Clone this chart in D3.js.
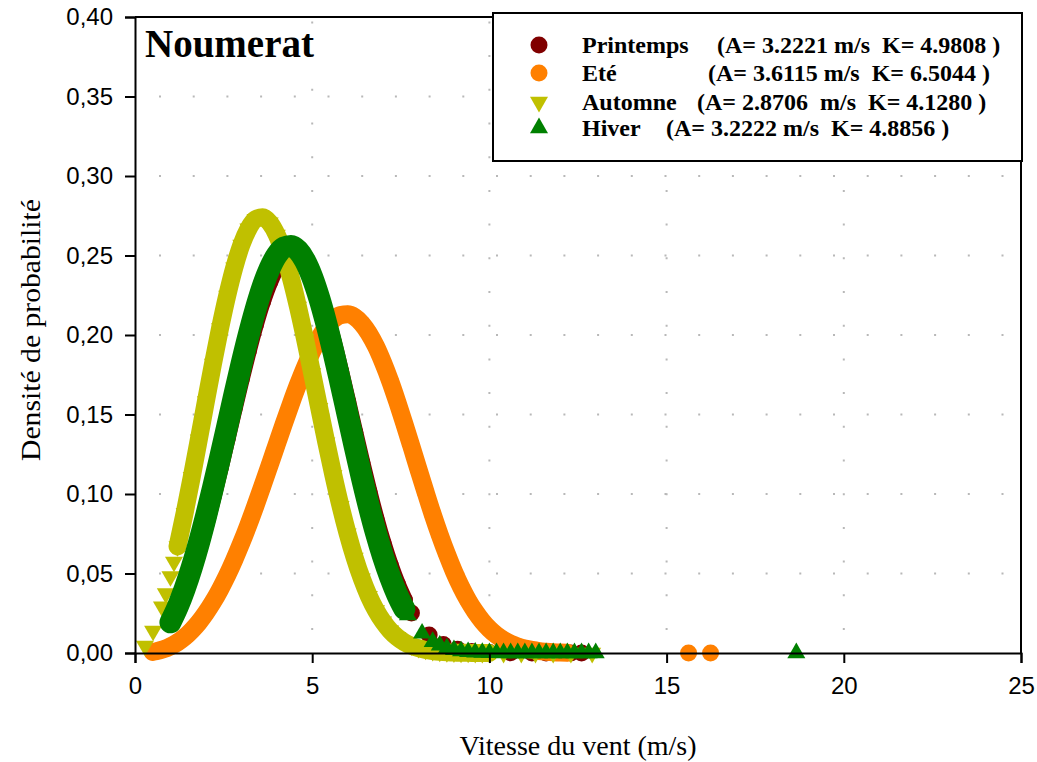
<!DOCTYPE html>
<html>
<head>
<meta charset="utf-8">
<script src="https://cdn.jsdelivr.net/npm/d3@7"></script>
<style>
  body { margin: 0; background: #fff; }
  svg { display: block; }
  .tick text { font-family: "Liberation Sans", Arial, sans-serif; font-size: 24px; fill: #000; }
</style>
</head>
<body>
<svg id="chart" width="1037" height="762"></svg>
<script>
// ---- Seasons, legend texts and marker styles ----
const seasons = ["Printemps", "Eté", "Automne", "Hiver"];
const seasonParams = [
  "(A= 3.2221 m/s  K= 4.9808 )",
  "(A= 3.6115 m/s  K= 6.5044 )",
  "(A= 2.8706  m/s  K= 4.1280 )",
  "(A= 3.2222 m/s  K= 4.8856 )"
];
const seasonColors = ["#800000", "#FF8000", "#C0C000", "#008000"];
const seasonSymbols = ["circle", "circle", "triangleDown", "triangleUp"];
const bandWidths = [17, 18, 18, 22];

// ---- Axis ticks ----
const xTicks = [0, 5, 10, 15, 20, 25];
const yTicks = [0, 0.05, 0.10, 0.15, 0.20, 0.25, 0.30, 0.35, 0.40];

// ---- Printemps: wind speed (m/s) and probability density ----
const printempsSpeeds = [1.0, 1.2, 1.4, 1.6, 1.8, 2.0, 2.2, 2.4, 2.6, 2.8, 3.0, 3.2, 3.4, 3.6, 3.8, 4.0, 4.2, 4.4, 4.6, 4.8,
  5.0, 5.2, 5.4, 5.6, 5.8, 6.0, 6.2, 6.4, 6.6, 6.8, 7.0, 7.2, 7.4, 7.6];
const printempsDensity = [0.0182, 0.0271, 0.0379, 0.0506, 0.0649, 0.0808, 0.0980, 0.1161, 0.1349, 0.1539, 0.1725, 0.1903,
  0.2068, 0.2213, 0.2334, 0.2426, 0.2486, 0.2512, 0.2500, 0.2453, 0.2371, 0.2257, 0.2115, 0.1952, 0.1772, 0.1582, 0.1389,
  0.1198, 0.1016, 0.0845, 0.0690, 0.0553, 0.0434, 0.0334];
const printempsSparseSpeeds = [7.8, 8.3, 8.7, 9.1, 9.5, 10.0, 10.6, 11.2, 11.6, 12.3, 12.6];
const printempsSparseDensity = [0.0252, 0.0113, 0.0054, 0.0023, 0.0009, 0.0003, 0.0001, 0.0000, 0.0000, 0.0000, 0.0000];

// ---- Eté ----
const eteSpeeds = [0.5, 0.6, 0.8, 1.0, 1.2, 1.4, 1.6, 1.8, 2.0, 2.2, 2.4, 2.6, 2.8, 3.0, 3.2, 3.4, 3.6, 3.8, 4.0, 4.2, 4.4,
  4.6, 4.8, 5.0, 5.2, 5.4, 5.6, 5.8, 6.0, 6.2, 6.4, 6.6, 6.8, 7.0, 7.2, 7.4, 7.6, 7.8, 8.0, 8.2, 8.4, 8.6, 8.8, 9.0, 9.2,
  9.4, 9.6, 9.8, 10.0, 10.2, 10.4, 10.6, 10.8, 11.0, 11.2, 11.4, 11.6, 11.8, 12.0, 12.2];
const eteDensity = [0.0007, 0.0011, 0.0023, 0.0042, 0.0067, 0.0100, 0.0142, 0.0192, 0.0252, 0.0321, 0.0400, 0.0488, 0.0586,
  0.0692, 0.0806, 0.0927, 0.1053, 0.1182, 0.1312, 0.1442, 0.1568, 0.1688, 0.1799, 0.1898, 0.1982, 0.2050, 0.2098, 0.2125,
  0.2130, 0.2113, 0.2072, 0.2010, 0.1928, 0.1826, 0.1710, 0.1580, 0.1442, 0.1299, 0.1154, 0.1011, 0.0872, 0.0742, 0.0622,
  0.0512, 0.0415, 0.0331, 0.0260, 0.0200, 0.0151, 0.0112, 0.0082, 0.0058, 0.0041, 0.0028, 0.0019, 0.0012, 0.0008, 0.0005,
  0.0003, 0.0002];
const eteSparseSpeeds = [15.62, 16.24];
const eteSparseDensity = [0.0000, 0.0000];

// ---- Automne ----
const automneSpeeds = [1.2, 1.4, 1.6, 1.8, 2.0, 2.2, 2.4, 2.6, 2.8, 3.0, 3.2, 3.4, 3.6, 3.8, 4.0, 4.2, 4.4, 4.6, 4.8, 5.0,
  5.2, 5.4, 5.6, 5.8, 6.0, 6.2, 6.4, 6.6, 6.8, 7.0, 7.2, 7.4, 7.6, 7.8, 8.0, 8.2, 8.4, 8.6, 8.8, 9.0, 9.2, 9.4, 9.6, 9.8, 10.0];
const automneDensity = [0.0670, 0.0880, 0.1106, 0.1342, 0.1582, 0.1818, 0.2042, 0.2246, 0.2423, 0.2566, 0.2668, 0.2728,
  0.2741, 0.2707, 0.2630, 0.2511, 0.2358, 0.2176, 0.1973, 0.1758, 0.1539, 0.1323, 0.1116, 0.0924, 0.0751, 0.0598, 0.0467,
  0.0357, 0.0268, 0.0197, 0.0141, 0.0099, 0.0068, 0.0046, 0.0030, 0.0019, 0.0012, 0.0007, 0.0004, 0.0003, 0.0001, 0.0001,
  0.0000, 0.0000, 0.0000];
const automneSparseSpeeds = [0.28, 0.51, 0.76, 0.87, 1.0, 1.1, 10.4, 10.9, 11.3, 11.8, 12.3, 12.9];
const automneSparseDensity = [0.0045, 0.0139, 0.0291, 0.0374, 0.0482, 0.0573, 0.0000, 0.0000, 0.0000, 0.0000, 0.0000, 0.0000];

// ---- Hiver ----
const hiverSpeeds = [1.0, 1.2, 1.4, 1.6, 1.8, 2.0, 2.2, 2.4, 2.6, 2.8, 3.0, 3.2, 3.4, 3.6, 3.8, 4.0, 4.2, 4.4, 4.6, 4.8,
  5.0, 5.2, 5.4, 5.6, 5.8, 6.0, 6.2, 6.4, 6.6, 6.8, 7.0, 7.2, 7.4, 7.6];
const hiverDensity = [0.0193, 0.0288, 0.0403, 0.0537, 0.0689, 0.0857, 0.1038, 0.1228, 0.1424, 0.1621, 0.1813, 0.1994,
  0.2159, 0.2303, 0.2418, 0.2502, 0.2550, 0.2560, 0.2532, 0.2466, 0.2364, 0.2231, 0.2071, 0.1892, 0.1698, 0.1498, 0.1298,
  0.1104, 0.0922, 0.0755, 0.0606, 0.0477, 0.0367, 0.0277];
const hiverSparseSpeeds = [7.7, 8.1, 8.4, 8.6, 8.8, 9.0, 9.2, 9.4, 9.6, 9.8, 10.0, 10.2, 10.4, 10.6, 10.8, 11.0, 11.2, 11.4,
  11.6, 11.8, 12.0, 12.2, 12.4, 12.6, 12.8, 13.0, 18.66];
const hiverSparseDensity = [0.0238, 0.0124, 0.0071, 0.0048, 0.0031, 0.0020, 0.0012, 0.0007, 0.0004, 0.0003, 0.0001, 0.0001,
  0.0000, 0.0000, 0.0000, 0.0000, 0.0000, 0.0000, 0.0000, 0.0000, 0.0000, 0.0000, 0.0000, 0.0000, 0.0000, 0.0000, 0.0000];

const zip = (xs, ys) => xs.map((v, i) => ({ speed: v, density: ys[i] }));
const series = [
  { band: zip(printempsSpeeds, printempsDensity), sparse: zip(printempsSparseSpeeds, printempsSparseDensity) },
  { band: zip(eteSpeeds, eteDensity), sparse: zip(eteSparseSpeeds, eteSparseDensity) },
  { band: zip(automneSpeeds, automneDensity), sparse: zip(automneSparseSpeeds, automneSparseDensity) },
  { band: zip(hiverSpeeds, hiverDensity), sparse: zip(hiverSparseSpeeds, hiverSparseDensity) }
].map((s, i) => ({ ...s, name: seasons[i], color: seasonColors[i], symbol: seasonSymbols[i], width: bandWidths[i] }));

// ---- Layout ----
const svg = d3.select("#chart");
const plotLeft = 135, plotRight = 1021, plotTop = 17, plotBottom = 653;
const x = d3.scaleLinear().domain([0, 25]).range([plotLeft, plotRight]);
const y = d3.scaleLinear().domain([0, 0.40]).range([plotBottom, plotTop]);

const circleArea = Math.PI * 8.5 * 8.5;
const triangleArea = Math.sqrt(3) / 4 * 18 * 18;
function markerPath(kind) {
  return kind === "circle"
    ? d3.symbol(d3.symbolCircle, circleArea)()
    : d3.symbol(d3.symbolTriangle, triangleArea)();
}
function markerTransform(kind, px, py) {
  return kind === "triangleDown" ? `translate(${px},${py}) rotate(180)` : `translate(${px},${py})`;
}

// ---- Dotted gridlines ----
const grid = svg.append("g").attr("stroke", "#b8b8b8").attr("stroke-width", 2)
  .attr("stroke-dasharray", "2 31.7");
grid.selectAll("line.h").data(yTicks.filter(d => d > 0 && d < 0.40)).join("line")
  .attr("class", "h")
  .attr("x1", plotLeft).attr("x2", plotRight)
  .attr("y1", d => y(d)).attr("y2", d => y(d))
  .attr("stroke-dashoffset", 9.7);
grid.selectAll("line.v").data(xTicks.filter(d => d > 0 && d < 25)).join("line")
  .attr("class", "v")
  .attr("x1", d => x(d)).attr("x2", d => x(d))
  .attr("y1", plotBottom).attr("y2", plotTop)
  .attr("stroke-dashoffset", 10.7);

// ---- Series: dense band drawn as a thick line through the points, plus markers ----
const line = d3.line().x(d => x(d.speed)).y(d => y(d.density)).curve(d3.curveMonotoneX);
const plot = svg.append("g");
series.forEach(s => {
  const g = plot.append("g");
  g.append("path")
    .attr("d", line(s.band))
    .attr("fill", "none")
    .attr("stroke", s.color)
    .attr("stroke-width", s.width)
    .attr("stroke-linecap", "round")
    .attr("stroke-linejoin", "round");
  g.selectAll("path.m").data(s.band.concat(s.sparse)).join("path")
    .attr("class", "m")
    .attr("d", markerPath(s.symbol))
    .attr("transform", d => markerTransform(s.symbol, x(d.speed), y(d.density)))
    .attr("fill", s.color);
});

// ---- Axes ----
const fmt = d => d.toFixed(2).replace(".", ",");
const yAxis = svg.append("g").attr("transform", `translate(${plotLeft},0)`)
  .call(d3.axisLeft(y).tickValues(yTicks).tickFormat(fmt).tickSize(10).tickPadding(12));
const xAxis = svg.append("g").attr("transform", `translate(0,${plotBottom})`)
  .call(d3.axisBottom(x).tickValues(xTicks).tickFormat(d3.format("d")).tickSize(10).tickPadding(14));
[xAxis, yAxis].forEach(a => {
  a.select(".domain").attr("stroke", "#000").attr("stroke-width", 2);
  a.selectAll(".tick line").attr("stroke", "#000").attr("stroke-width", 2);
});
// Plot frame: top and right edges
svg.append("line").attr("x1", plotLeft).attr("x2", plotRight).attr("y1", plotTop).attr("y2", plotTop)
  .attr("stroke", "#000").attr("stroke-width", 2);
svg.append("line").attr("x1", plotRight).attr("x2", plotRight).attr("y1", plotTop).attr("y2", plotBottom)
  .attr("stroke", "#000").attr("stroke-width", 2);

// ---- Axis titles ----
svg.append("text")
  .attr("x", (plotLeft + plotRight) / 2).attr("y", 755)
  .attr("text-anchor", "middle")
  .attr("font-family", "'Liberation Serif', 'Times New Roman', serif")
  .attr("font-size", 28)
  .text("Vitesse du vent (m/s)");
svg.append("text")
  .attr("transform", "translate(40,330) rotate(-90)")
  .attr("text-anchor", "middle")
  .attr("font-family", "'Liberation Serif', 'Times New Roman', serif")
  .attr("font-size", 28)
  .attr("textLength", 262)
  .attr("lengthAdjust", "spacingAndGlyphs")
  .text("Densité de probabilité");

// ---- Station name ----
svg.append("text")
  .attr("x", 145).attr("y", 57)
  .attr("font-family", "'Liberation Serif', 'Times New Roman', serif")
  .attr("font-weight", "bold")
  .attr("font-size", 39)
  .text("Noumerat");

// ---- Legend ----
const legend = svg.append("g");
legend.append("rect")
  .attr("x", 493).attr("y", 13).attr("width", 529).attr("height", 148)
  .attr("fill", "#fff").attr("stroke", "#000").attr("stroke-width", 2);
const rowY = [45, 73, 102, 128];
const paramX = [717, 708, 697, 666];
series.forEach((s, i) => {
  legend.append("path")
    .attr("d", markerPath(s.symbol))
    .attr("transform", markerTransform(s.symbol, 539, rowY[i]))
    .attr("fill", s.color);
  const txt = legend.append("text")
    .attr("y", rowY[i] + 8)
    .attr("font-family", "'Liberation Serif', 'Times New Roman', serif")
    .attr("font-weight", "bold")
    .attr("font-size", 24)
    .style("white-space", "pre");
  txt.append("tspan").attr("x", 582).text(s.name);
  txt.append("tspan").attr("x", paramX[i]).text(seasonParams[i]);
});
</script>
</body>
</html>
